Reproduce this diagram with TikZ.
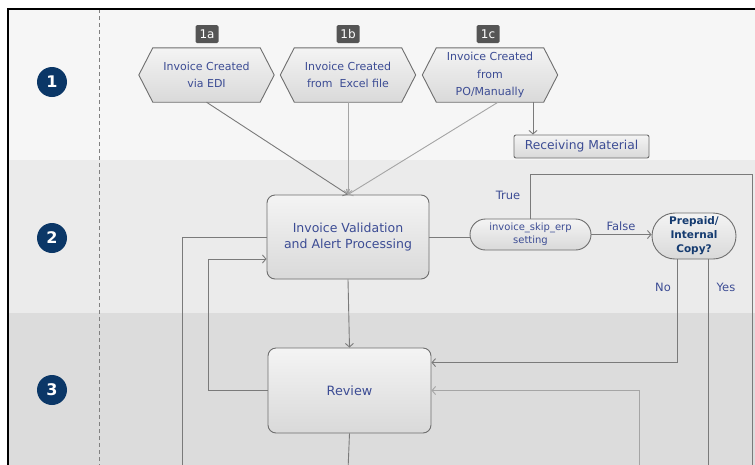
\documentclass[tikz,border=0pt]{standalone}
\usepackage{fontspec}
\setmainfont{DejaVu Sans}
\usetikzlibrary{arrows.meta,calc}
\pgfdeclarelayer{lanes}
\pgfdeclarelayer{shapes}
\pgfsetlayers{lanes,shapes,main}
\definecolor{laneA}{HTML}{F6F6F6}
\definecolor{laneB}{HTML}{EBEBEB}
\definecolor{laneC}{HTML}{DCDCDC}
\definecolor{navy}{HTML}{0B3767}
\definecolor{txt}{HTML}{3C4C94}
\definecolor{lncol}{HTML}{7A7A7A}
\definecolor{lnlight}{HTML}{A5A5A5}
\definecolor{tagcol}{HTML}{555555}
\definecolor{shtop}{HTML}{F4F4F4}
\definecolor{shbot}{HTML}{D9D9D9}
\tikzset{
  ln/.style={draw=lncol, line width=0.9pt},
  arr/.style={ln, -{Straight Barb[length=3.5pt,width=8pt]}},
  numc/.style={circle, fill=navy, text=white, minimum size=30pt, inner sep=0pt, font=\fontsize{16}{16}\selectfont\bfseries},
  tag/.style={fill=tagcol, text=white, minimum width=23pt, minimum height=18pt, inner sep=0pt, rounded corners=1.5pt, font=\fontsize{12}{12}\selectfont},
  hex/.style={minimum width=135pt, minimum height=54pt, inner sep=0pt, align=center, text=txt, font=\fontsize{11}{17.5}\selectfont},
  shaded/.style={draw=lncol!90!black, line width=0.9pt, top color=shtop, bottom color=shbot},
  box/.style={shaded, align=center, text=txt, inner sep=0pt},
  lbl/.style={text=txt, font=\fontsize{11.5}{12}\selectfont, inner sep=0pt}
}
\begin{document}
\begin{tikzpicture}[x=1pt,y=-1pt]
\useasboundingbox (0,0) rectangle (755,464);
\clip (0,0) rectangle (755,464);
\begin{pgfonlayer}{lanes}
  \fill[white] (0,0) rectangle (755,464);
  \fill[laneA] (8,9) rectangle (760,160);
  \fill[laneB] (8,160) rectangle (760,313);
  \fill[laneC] (8,313) rectangle (760,470);
  \draw[draw=gray, line width=0.9pt, dash pattern=on 4pt off 3pt] (99,9) -- (99,470);
  \draw[black, line width=1.3pt] (8,470) -- (8,9) -- (760,9);
\end{pgfonlayer}

% lane numbers
\node[numc] (n1) at (52,82) {1};
\node[numc] (n2) at (52,238) {2};
\node[numc] (n3) at (52,390) {3};

% tags
\node[tag] (t1a) at (207,34) {1a};
\node[tag] (t1b) at (348,34) {1b};
\node[tag] (t1c) at (488,34) {1c};

% hexagons
\node[hex] (h1a) at (206.5,75) {Invoice Created\\via EDI};
\node[hex] (h1b) at (348,75) {Invoice Created\\from~ Excel file};
\node[hex] (h1c) at (490,75) {Invoice Created\\from\\PO/Manually};
\begin{pgfonlayer}{shapes}
\foreach \n in {h1a,h1b,h1c}
  \path[shaded] (\n.west) -- ([xshift=14pt]\n.north west) -- ([xshift=-14pt]\n.north east)
     -- (\n.east) -- ([xshift=-14pt]\n.south east) -- ([xshift=14pt]\n.south west) -- cycle;
\end{pgfonlayer}

\node[box, rounded corners=2pt, minimum width=135pt, minimum height=23pt, font=\fontsize{12.3}{13}\selectfont] (rm) at (581.5,146.5) {Receiving Material};
\node[box, rounded corners=8pt, minimum width=162pt, minimum height=84pt, font=\fontsize{12.5}{16.5}\selectfont] (val) at (348,237) {Invoice Validation\\and Alert Processing};
\node[box, rounded corners=15.5pt, minimum width=121pt, minimum height=31pt, font=\fontsize{10}{13}\selectfont] (skip) at (530.5,234.5) {invoice\_skip\_erp\\setting};
\node[box, rounded corners=23pt, minimum width=84pt, minimum height=46pt, text=navy!80!txt, font=\fontsize{10.5}{14}\selectfont\bfseries] (prep) at (694,236) {Prepaid/\\Internal\\Copy?};
\node[box, rounded corners=8pt, minimum width=163pt, minimum height=85pt, font=\fontsize{12.8}{14}\selectfont] (rev) at (349.5,390.5) {Review};

% free ends
\coordinate (trueEnd) at (752,470);
\coordinate (yesEnd) at (708,470);
\coordinate (rightIn) at (639,470);
\coordinate (revEnd) at (348,470);
\coordinate (leftEnd) at (182,470);

% connectors
\draw[arr] (h1a.south) -- (val.north);
\draw[arr, draw=lnlight] (h1b.south) -- (val.north);
\draw[arr, draw=lnlight] ([xshift=8pt]h1c.south) -- (val.north);
\draw[arr] ([xshift=43pt]h1c.south) -- ([xshift=43pt]h1c.south |- rm.north);
\draw[ln] (val.east) -- (val.east -| skip.west);
\draw[ln] (skip.north) |- (752,174) -- (trueEnd);
\draw[arr] (skip.east) -- (skip.east -| prep.west);
\draw[arr] ([xshift=-17pt]prep.south) |- ([yshift=-15pt]rev.north east);
\draw[ln] ([xshift=14pt]prep.south) -- (yesEnd);
\draw[arr, draw=lnlight] (rightIn) |- (rev.east);
\draw[arr] (val.south) -- (rev.north);
\draw[ln] (rev.south) -- (revEnd);
\draw[arr] (rev.west) -| (208,259) -- ([yshift=-22pt]val.west);
\draw[ln] (val.west) -| (leftEnd);

% labels
\node[lbl] (lt) at (508,195) {True};
\node[lbl] (lf) at (621,226) {False};
\node[lbl] (lno) at (663,287) {No};
\node[lbl] (lyes) at (726,287) {Yes};
\end{tikzpicture}
\end{document}
